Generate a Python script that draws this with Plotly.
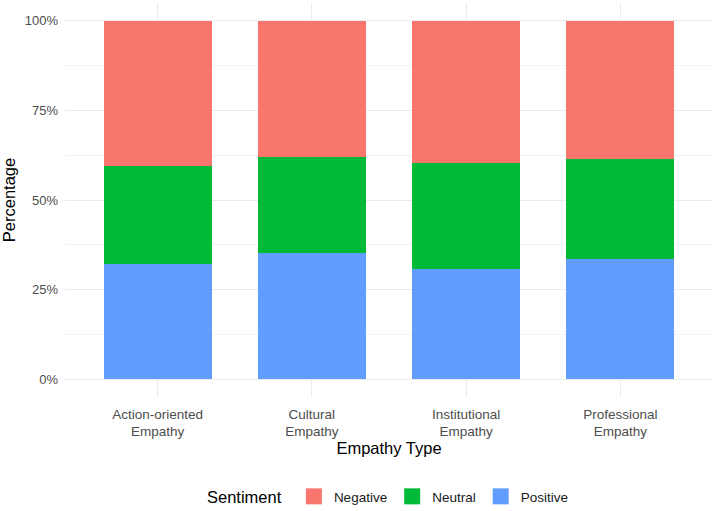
import plotly.graph_objects as go

categories = ["Action-oriented<br>Empathy", "Cultural<br>Empathy", "Institutional<br>Empathy", "Professional<br>Empathy"]
positive = [0.322, 0.353, 0.307, 0.334]
neutral = [0.274, 0.268, 0.297, 0.281]
negative = [0.404, 0.379, 0.396, 0.385]

colors = {"Negative": "#F8766D", "Neutral": "#00BA38", "Positive": "#619CFF"}
FONT = "Liberation Sans, Arial, sans-serif"

fig = go.Figure()
for name, vals in [("Positive", positive), ("Neutral", neutral), ("Negative", negative)]:
    fig.add_trace(go.Bar(x=categories, y=vals, name=name, marker_color=colors[name],
                         marker_line_width=0, width=0.7, showlegend=False, legendgroup=name))
for name in ["Positive", "Neutral", "Negative"]:
    fig.add_trace(go.Scatter(x=[None], y=[None], mode="markers", name=name, legendgroup=name,
                             marker=dict(symbol="square", size=22, color=colors[name])))

fig.update_layout(
    barmode="stack",
    width=715, height=511,
    margin=dict(l=65, r=2, t=3, b=114, autoexpand=False),
    paper_bgcolor="white", plot_bgcolor="white",
    font=dict(family=FONT, color="#000000"),
    showlegend=True,
    legend=dict(orientation="h", traceorder="reversed", x=0.5, xanchor="center",
                y=-0.254, yanchor="middle", itemsizing="trace",
                title=dict(text="Sentiment ", side="left", font=dict(size=16.5, color="#000")),
                font=dict(size=13.5, color="#1a1a1a")),
)
fig.update_xaxes(range=[-0.6, 3.6], showgrid=True, gridcolor="#ebebeb", gridwidth=1,
                 showline=False, zeroline=False, ticks="", ticklabelstandoff=7,
                 tickfont=dict(size=13.5, color="#4d4d4d"), automargin=False,
                 title=dict(text="Empathy Type", font=dict(size=16.5, color="#000"), standoff=4))
fig.update_yaxes(range=[-0.05, 1.05], tickvals=[0, 0.25, 0.5, 0.75, 1.0],
                 ticktext=["0%", "25%", "50%", "75%", "100%"],
                 showgrid=True, gridcolor="#ebebeb", gridwidth=1, zeroline=False, showline=False,
                 ticks="", ticklabelstandoff=6, automargin=False,
                 tickfont=dict(size=13, color="#4d4d4d"),
                 minor=dict(tickvals=[0.125, 0.375, 0.625, 0.875], showgrid=True,
                            gridcolor="#f3f3f3", gridwidth=0.6),
                 title=dict(text="Percentage", font=dict(size=16.5, color="#000"), standoff=6))

fig.write_html("out.html")
